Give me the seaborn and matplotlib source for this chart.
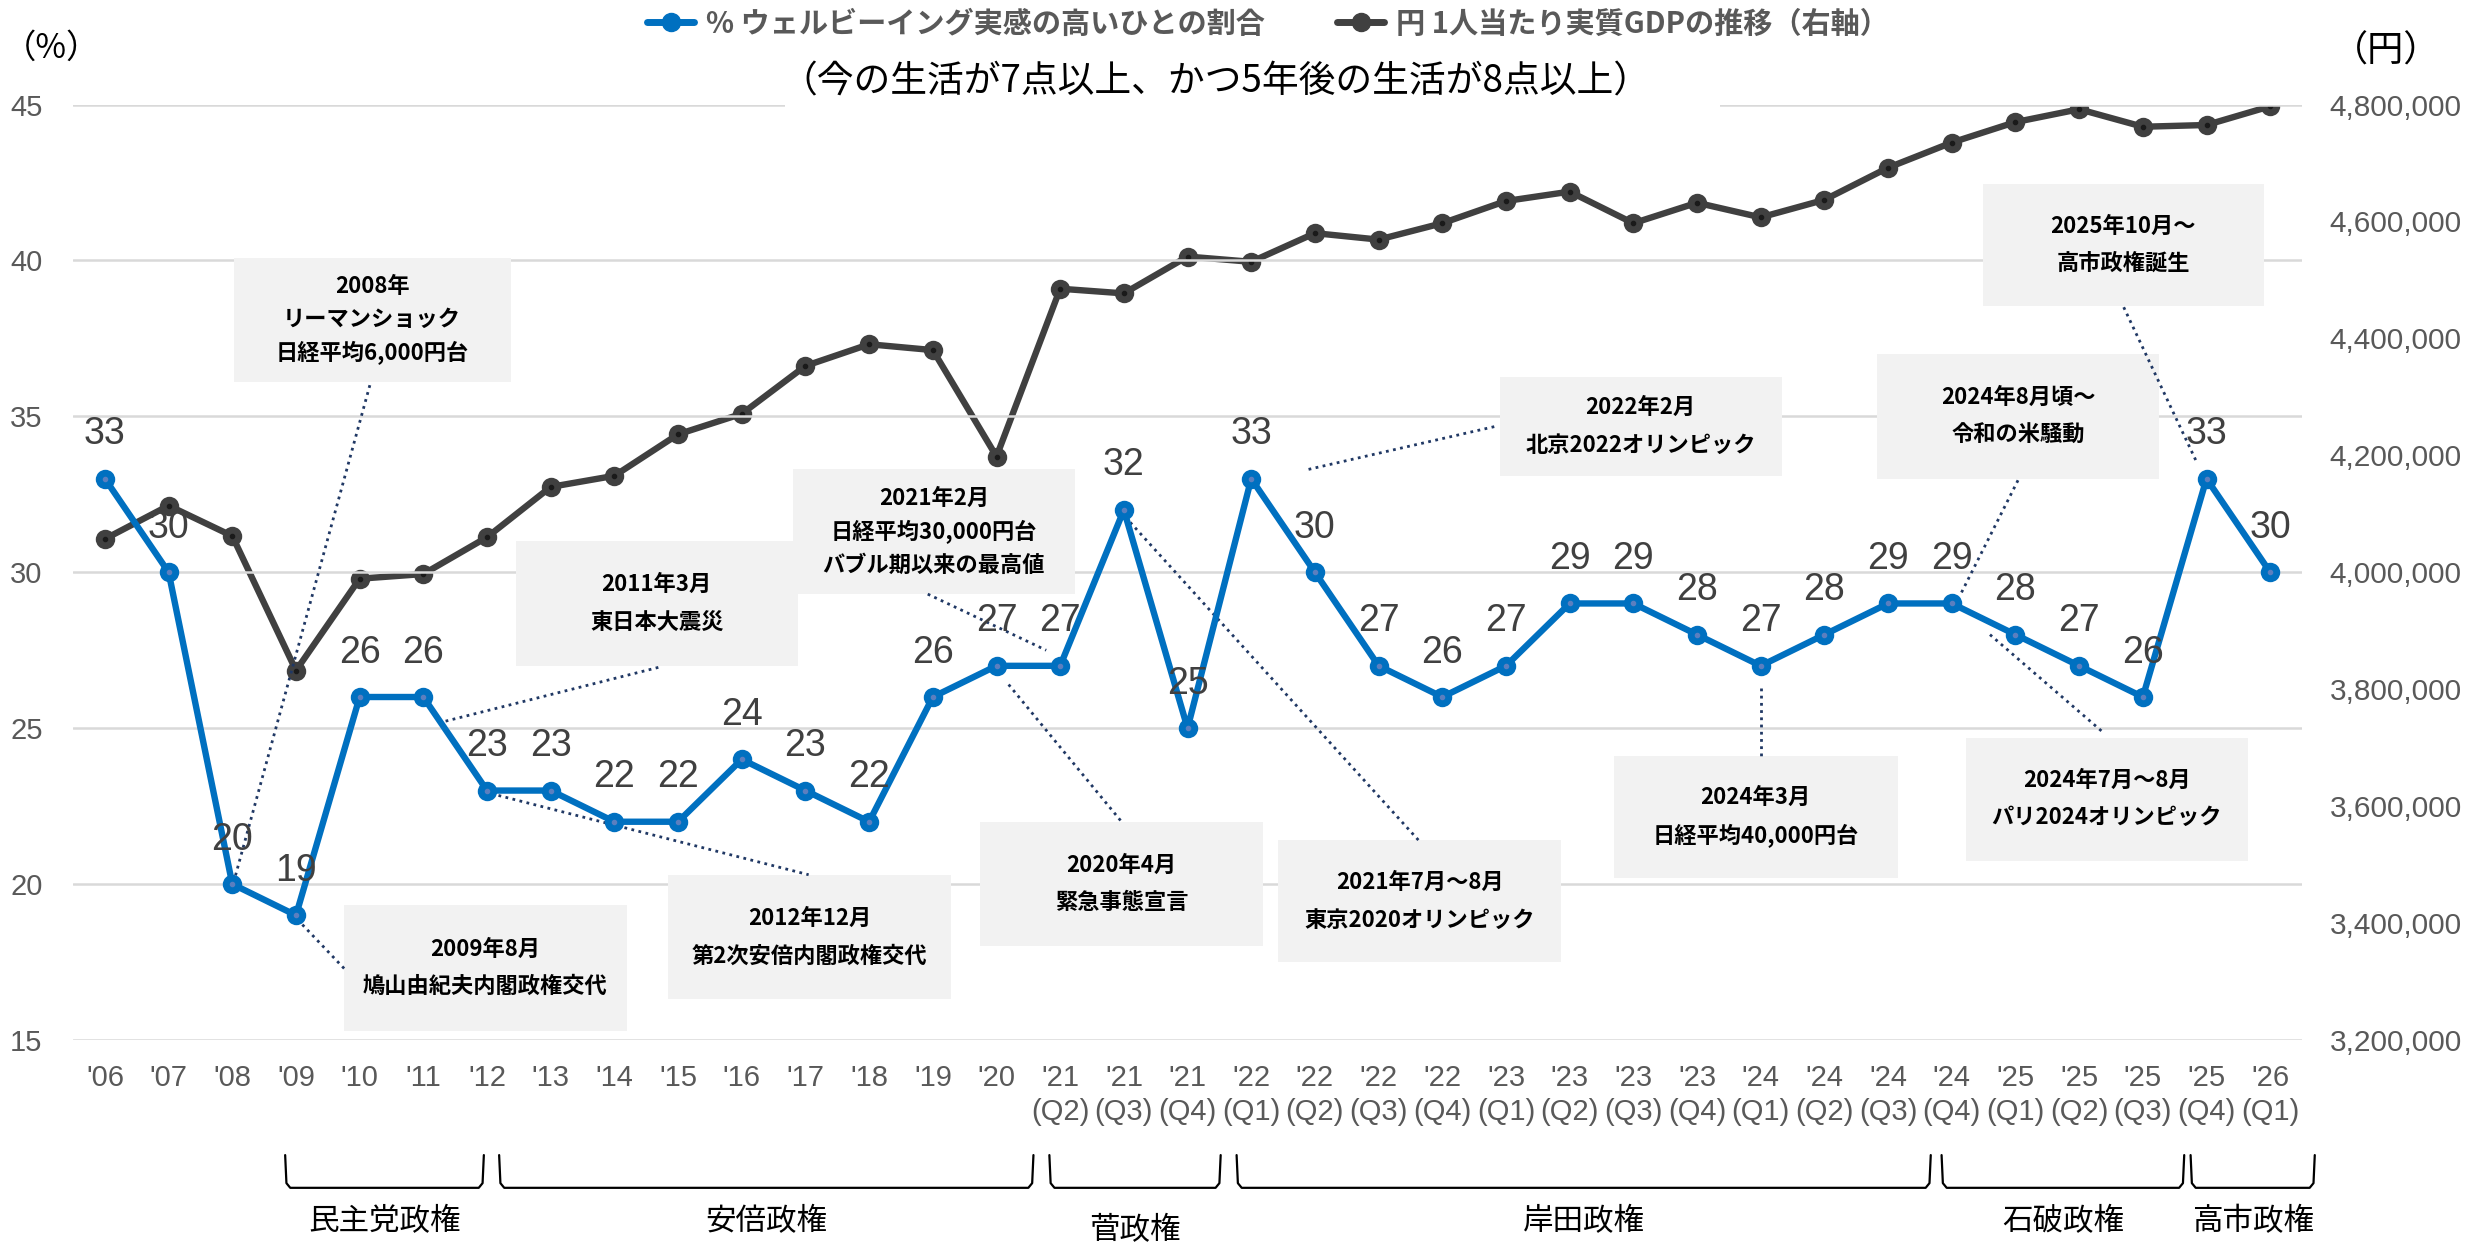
import numpy as np
import pandas as pd
import seaborn as sns
import matplotlib.pyplot as plt
import matplotlib.transforms as mtransforms
from matplotlib.lines import Line2D
from matplotlib.patches import Rectangle
from matplotlib.ticker import FuncFormatter

# --- data -------------------------------------------------------------
periods = ["'06", "'07", "'08", "'09", "'10", "'11", "'12", "'13", "'14", "'15",
           "'16", "'17", "'18", "'19", "'20",
           "'21\n(Q2)", "'21\n(Q3)", "'21\n(Q4)",
           "'22\n(Q1)", "'22\n(Q2)", "'22\n(Q3)", "'22\n(Q4)",
           "'23\n(Q1)", "'23\n(Q2)", "'23\n(Q3)", "'23\n(Q4)",
           "'24\n(Q1)", "'24\n(Q2)", "'24\n(Q3)", "'24\n(Q4)",
           "'25\n(Q1)", "'25\n(Q2)", "'25\n(Q3)", "'25\n(Q4)",
           "'26\n(Q1)"]
wellbeing = [33, 30, 20, 19, 26, 26, 23, 23, 22, 22, 24, 23, 22, 26, 27,
             27, 32, 25,
             33, 30, 27, 26,
             27, 29, 29, 28,
             27, 28, 29, 29,
             28, 27, 26, 33,
             30]
gdp = [4057000, 4114000, 4062000, 3832000, 3989000, 3997000, 4060000, 4146000,
       4165000, 4236000, 4271000, 4353000, 4390000, 4380000, 4198000,
       4485000, 4477000, 4540000,
       4531000, 4580000, 4569000, 4597000,
       4635000, 4651000, 4597000, 4632000,
       4607000, 4637000, 4692000, 4735000,
       4770000, 4792000, 4762000, 4765000,
       4797000]

series_names = ["% ウェルビーイング実感の高いひとの割合", "円 1人当たり実質GDPの推移（右軸）"]
subtitle = "（今の生活が7点以上、かつ5年後の生活が8点以上）"

gov_names = ["民主党政権", "安倍政権", "菅政権", "岸田政権", "石破政権", "高市政権"]
gov_spans = [(2.83, 5.95), (6.19, 14.58), (14.83, 17.52),
             (17.77, 28.67), (28.84, 32.65), (32.75, 34.7)]

# event boxes: text, (x0, x1, y0, y1) in data units, connector start, connector end
events = [
    ("2008年\nリーマンショック\n日経平均6,000円台", (2.02, 6.37, 36.1, 40.07), (4.16, 36.0), (2.04, 20.2)),
    ("2009年8月\n鳩山由紀夫内閣政権交代", (3.76, 8.19, 15.3, 19.32), (3.1, 18.7), (3.8, 17.2)),
    ("2011年3月\n東日本大震災", (6.45, 10.88, 27.0, 31.0), (8.69, 26.95), (5.3, 25.2)),
    ("2012年12月\n第2次安倍内閣政権交代", (8.84, 13.29, 16.3, 20.3), (6.07, 22.9), (11.05, 20.3)),
    ("2021年2月\n日経平均30,000円台\nバブル期以来の最高値", (10.8, 15.23, 29.3, 33.3), (12.92, 29.3), (14.78, 27.5)),
    ("2020年4月\n緊急事態宣言", (13.74, 18.19, 18.0, 22.0), (14.19, 26.4), (15.98, 21.96)),
    ("2021年7月～8月\n東京2020オリンピック", (18.42, 22.87, 17.5, 21.4), (16.1, 31.6), (20.63, 21.4)),
    ("2022年2月\n北京2022オリンピック", (21.9, 26.33, 33.1, 36.25), (18.9, 33.3), (21.88, 34.7)),
    ("2024年3月\n日経平均40,000円台", (23.69, 28.15, 20.2, 24.1), (26.0, 26.3), (26.0, 24.1)),
    ("2024年8月頃～\n令和の米騒動", (27.82, 32.26, 33.0, 37.0), (30.04, 32.95), (29.14, 29.3)),
    ("2024年7月～8月\nパリ2024オリンピック", (29.22, 33.65, 20.75, 24.7), (29.6, 28.0), (31.38, 24.86)),
    ("2025年10月～\n高市政権誕生", (29.49, 33.9, 38.54, 42.46), (31.7, 38.5), (32.83, 33.6)),
]

BLUE = "#0070C0"
DARK = "#404040"
TICK = "#595959"
JP_FONT = ["Noto Sans CJK JP", "DejaVu Sans"]

sns.set_theme(style="white")
plt.rcParams["font.family"] = ["Liberation Sans", "Noto Sans CJK JP", "DejaVu Sans"]

df = pd.DataFrame({"idx": np.arange(len(periods)), "wellbeing": wellbeing, "gdp": gdp})

fig = plt.figure(figsize=(24.86, 12.43), dpi=100)
ax = fig.add_axes([0.0294, 0.1633, 0.8966, 0.7526])
ax2 = ax.twinx()
ax.set_zorder(ax2.get_zorder() + 1)
ax.patch.set_visible(False)

# GDP line (right axis)
sns.lineplot(data=df, x="idx", y="gdp", ax=ax2, color=DARK, lw=4.6,
             marker="o", markersize=14, markeredgewidth=0)
ax2.plot(df["idx"], df["gdp"], ls="none", marker="o", ms=3, color="#1a1a1a")

# wellbeing line (left axis)
sns.lineplot(data=df, x="idx", y="wellbeing", ax=ax, color=BLUE, lw=4.6,
             marker="o", markersize=14, markeredgewidth=0, zorder=4)
ax.plot(df["idx"], df["wellbeing"], ls="none", marker="o", ms=3, color="#5b7fbf", zorder=5)

for i, v in zip(df["idx"], df["wellbeing"]):
    ax.annotate(str(v), (i, v), xytext=(0, 32), textcoords="offset points",
                ha="center", va="center", fontsize=27, color=DARK, zorder=6)

# axes styling
ax.set_xlim(-0.5, len(periods) - 0.5)
ax.set_ylim(15, 45)
ax.set_yticks(range(15, 46, 5))
ax2.set_ylim(3200000, 4800000)
ax2.set_yticks(range(3200000, 4800001, 200000))
ax2.yaxis.set_major_formatter(FuncFormatter(lambda v, p: f"{v:,.0f}"))
ax.set_xticks(df["idx"])
ax.set_xticklabels(periods, linespacing=1.3)
ax.set_xlabel("")
ax.set_ylabel("")
ax2.set_ylabel("")
ax.tick_params(axis="x", length=0, pad=17, labelsize=21, labelcolor=TICK)
ax.tick_params(axis="y", length=0, pad=22, labelsize=21, labelcolor=TICK)
ax2.tick_params(axis="y", length=0, pad=20, labelsize=21.5, labelcolor=TICK)
ax.grid(axis="y", color="#d9d9d9", lw=1.8)
ax.grid(axis="x", visible=False)
ax2.grid(False)
for a in (ax, ax2):
    for s in a.spines.values():
        s.set_visible(False)

# event boxes with dotted connectors
for text, (x0, x1, y0, y1), (xa, ya), (xb, yb) in events:
    ax.plot([xa, xb], [ya, yb], color="#203864", lw=2, ls=(0, (1, 1.6)), zorder=2)
    ax.add_patch(Rectangle((x0, y0), x1 - x0, y1 - y0, fc="#f2f2f2", ec="none", zorder=1.5))
    n = text.count("\n") + 1
    ax.text((x0 + x1) / 2, (y0 + y1) / 2, text, ha="center", va="center",
            fontsize=16, fontweight="bold", color="black", family=JP_FONT,
            linespacing=1.55 if n == 3 else 1.8, zorder=3)

# government brackets under the x axis
trans = mtransforms.blended_transform_factory(ax.transData, ax.transAxes)
for name, (a, b) in zip(gov_names, gov_spans):
    ax.plot([a, a + 0.02, a + 0.08, b - 0.08, b - 0.02, b],
            [-0.123, -0.153, -0.158, -0.158, -0.153, -0.123], transform=trans,
            clip_on=False, color="black", lw=1.6)
    ypos = -0.204 if name == "菅政権" else -0.194
    ax.text((a + b) / 2, ypos, name, transform=trans, ha="center", va="center",
            fontsize=22, color="black", family=JP_FONT)

# titles, units, legend
fig.patches.append(Rectangle((785 / 2486, 1 - 125 / 1243), 935 / 2486, 70 / 1243,
                             transform=fig.transFigure, fc="white", ec="none", zorder=5))
fig.text(1215 / 2486, 1 - 82 / 1243, subtitle, ha="center", va="center",
         fontsize=26.5, color="black", family=JP_FONT, zorder=6)
fig.text(52 / 2486, 1 - 48 / 1243, "（%）", ha="center", va="center",
         fontsize=24, color="black", family=JP_FONT)
fig.text(2386 / 2486, 1 - 52 / 1243, "（円）", ha="center", va="center",
         fontsize=26, color="black", family=JP_FONT)

handles = [Line2D([], [], color=BLUE, lw=5, marker="o", ms=13),
           Line2D([], [], color=DARK, lw=5, marker="o", ms=13)]
fig.legend(handles=handles, labels=series_names, loc="center",
           bbox_to_anchor=(0.51, 0.981), ncol=2, frameon=False,
           handlelength=1.6, handletextpad=0.4, columnspacing=2.5,
           labelcolor=TICK, prop={"family": JP_FONT, "size": 21, "weight": "bold"})

fig.savefig("out.png", dpi=100)
